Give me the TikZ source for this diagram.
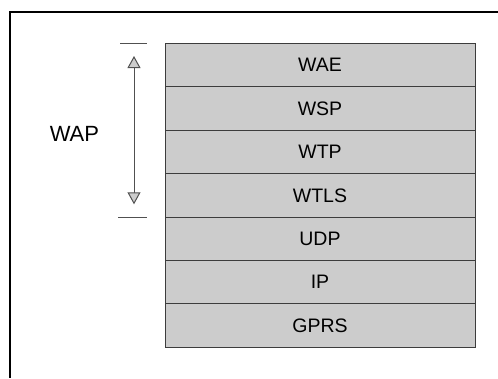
\documentclass[tikz,border=0pt]{standalone}
\usepackage{fontspec}
\setmainfont{Liberation Sans}
\usetikzlibrary{arrows.meta}
\definecolor{layerfill}{RGB}{204,204,204}
\definecolor{layerline}{RGB}{60,60,60}
\definecolor{dimline}{RGB}{80,80,80}
\begin{document}
\begin{tikzpicture}[x=1pt,y=-1pt,
  layer/.style={draw=layerline, line width=1pt, fill=layerfill,
    minimum width=310pt, minimum height=43.4pt, inner sep=0pt, outer sep=0pt,
    font=\fontsize{19.5}{21}\selectfont},
  frameline/.style={line width=2pt, black},
  dimbar/.style={line width=1pt, dimline},
  dimarrow/.style={line width=1pt, dimline,
    {Triangle[width=13pt,length=12pt,fill=layerfill]}-{Triangle[width=13pt,length=12pt,fill=layerfill]}},
  label/.style={font=\fontsize{22}{24}\selectfont}]
\useasboundingbox (0,0) rectangle (498,378);
% outer frame
\coordinate (ftr) at (498,12);
\coordinate (ftl) at (10,12);
\coordinate (fbl) at (10,378);
\draw[frameline] (ftr) -- (ftl) -- (fbl);
% layers
\node[layer] (wae)  at (320,65.2)  {WAE};
\node[layer] (wsp)  at (320,108.6) {WSP};
\node[layer] (wtp)  at (320,152.0) {WTP};
\node[layer] (wtls) at (320,195.4) {WTLS};
\node[layer] (udp)  at (320,238.8) {UDP};
\node[layer] (ip)   at (320,282.2) {IP};
\node[layer] (gprs) at (320,325.6) {GPRS};
% dimension marks
\coordinate (t1) at (120,43.5);
\coordinate (t2) at (147,43.5);
\coordinate (b1) at (118,217);
\coordinate (b2) at (147,217);
\draw[dimbar] (t1) -- (t2);
\draw[dimbar] (b1) -- (b2);
\coordinate (atop) at (134,56);
\coordinate (abot) at (134,204.3);
\draw[dimarrow] (atop) -- (abot);
\node[label] (wap) at (74.4,134.2) {WAP};
\end{tikzpicture}
\end{document}
